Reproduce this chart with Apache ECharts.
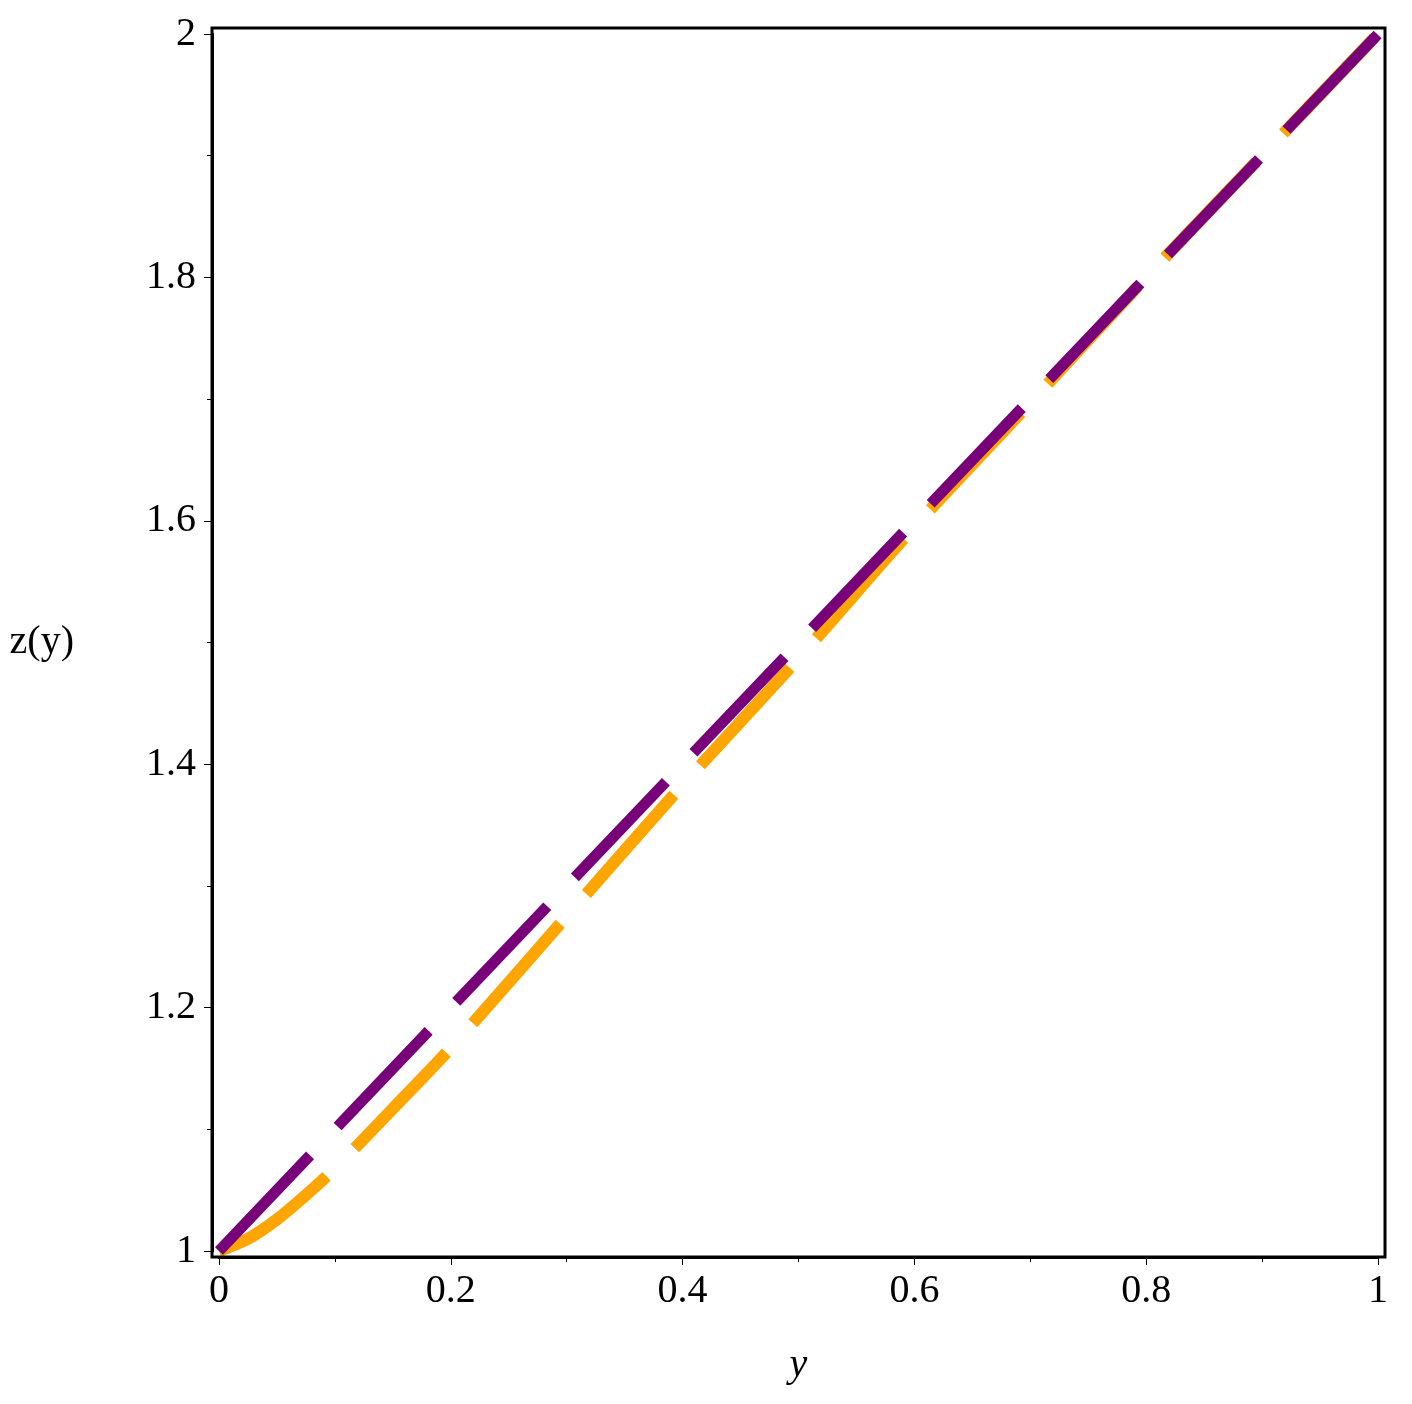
<!DOCTYPE html>
<html><head><meta charset="utf-8">
<script src="https://cdn.jsdelivr.net/npm/echarts@6/dist/echarts.min.js"></script>
<style>html,body{margin:0;background:#fff}#c{width:1412px;height:1404px}</style>
</head><body><div id="c"></div>
<script>
const xs = [0, 0.025, 0.05, 0.075, 0.1, 0.15, 0.2, 0.3, 0.4, 0.5, 0.6, 0.7, 0.8, 0.9, 1];
const orangeZ = [1.0, 1.01, 1.026, 1.046, 1.068, 1.117, 1.167, 1.275, 1.383, 1.487, 1.595, 1.697, 1.8, 1.9, 2.0];
const purpleX = [0, 1];
const purpleZ = [1, 2];
const chart = echarts.init(document.getElementById('c'));
const font = 'Liberation Serif';
chart.setOption({
  animation: false,
  grid: {left: 219, right: 34, top: 34, bottom: 153},
  graphic: [{type: 'rect', shape: {x: 212, y: 28, width: 1173, height: 1229}, style: {fill: 'none', stroke: '#000', lineWidth: 3}, z: 100}],
  xAxis: {type: 'value', min: 0, max: 1, interval: 0.2, offset: 6,
    axisLine: {onZero: false, lineStyle: {color: '#000', width: 3}},
    axisTick: {length: 8, lineStyle: {color: '#000'}}, minorTick: {show: true, splitNumber: 2, length: 5, lineStyle: {color: '#000'}},
    splitLine: {show: false},
    axisLabel: {color: '#000', fontFamily: font, fontSize: 40, margin: 14, formatter: v => String(v)},
    name: 'y', nameLocation: 'middle', nameGap: 88,
    nameTextStyle: {color: '#000', fontFamily: font, fontSize: 40, fontStyle: 'italic'}},
  yAxis: {type: 'value', min: 1, max: 2, interval: 0.2, offset: 7,
    axisLine: {onZero: false, lineStyle: {color: '#000', width: 3}},
    axisTick: {length: 8, lineStyle: {color: '#000'}}, minorTick: {show: true, splitNumber: 2, length: 5, lineStyle: {color: '#000'}},
    splitLine: {show: false},
    axisLabel: {color: '#000', fontFamily: font, fontSize: 40, margin: 16, formatter: v => String(+v.toFixed(1))},
    name: 'z(y)', nameLocation: 'middle', nameGap: 138, nameRotate: 0,
    nameTextStyle: {color: '#000', fontFamily: font, fontSize: 40}},
  series: [
    {type: 'line', data: xs.map((x, i) => [x, orangeZ[i]]), smooth: 0.3, showSymbol: false,
     lineStyle: {color: '#ffa500', width: 12, type: [132, 40], cap: 'butt'}},
    {type: 'line', data: purpleX.map((x, i) => [x, purpleZ[i]]), showSymbol: false,
     lineStyle: {color: '#780078', width: 11, type: [132, 40], cap: 'butt'}}
  ]
});
</script></body></html>
